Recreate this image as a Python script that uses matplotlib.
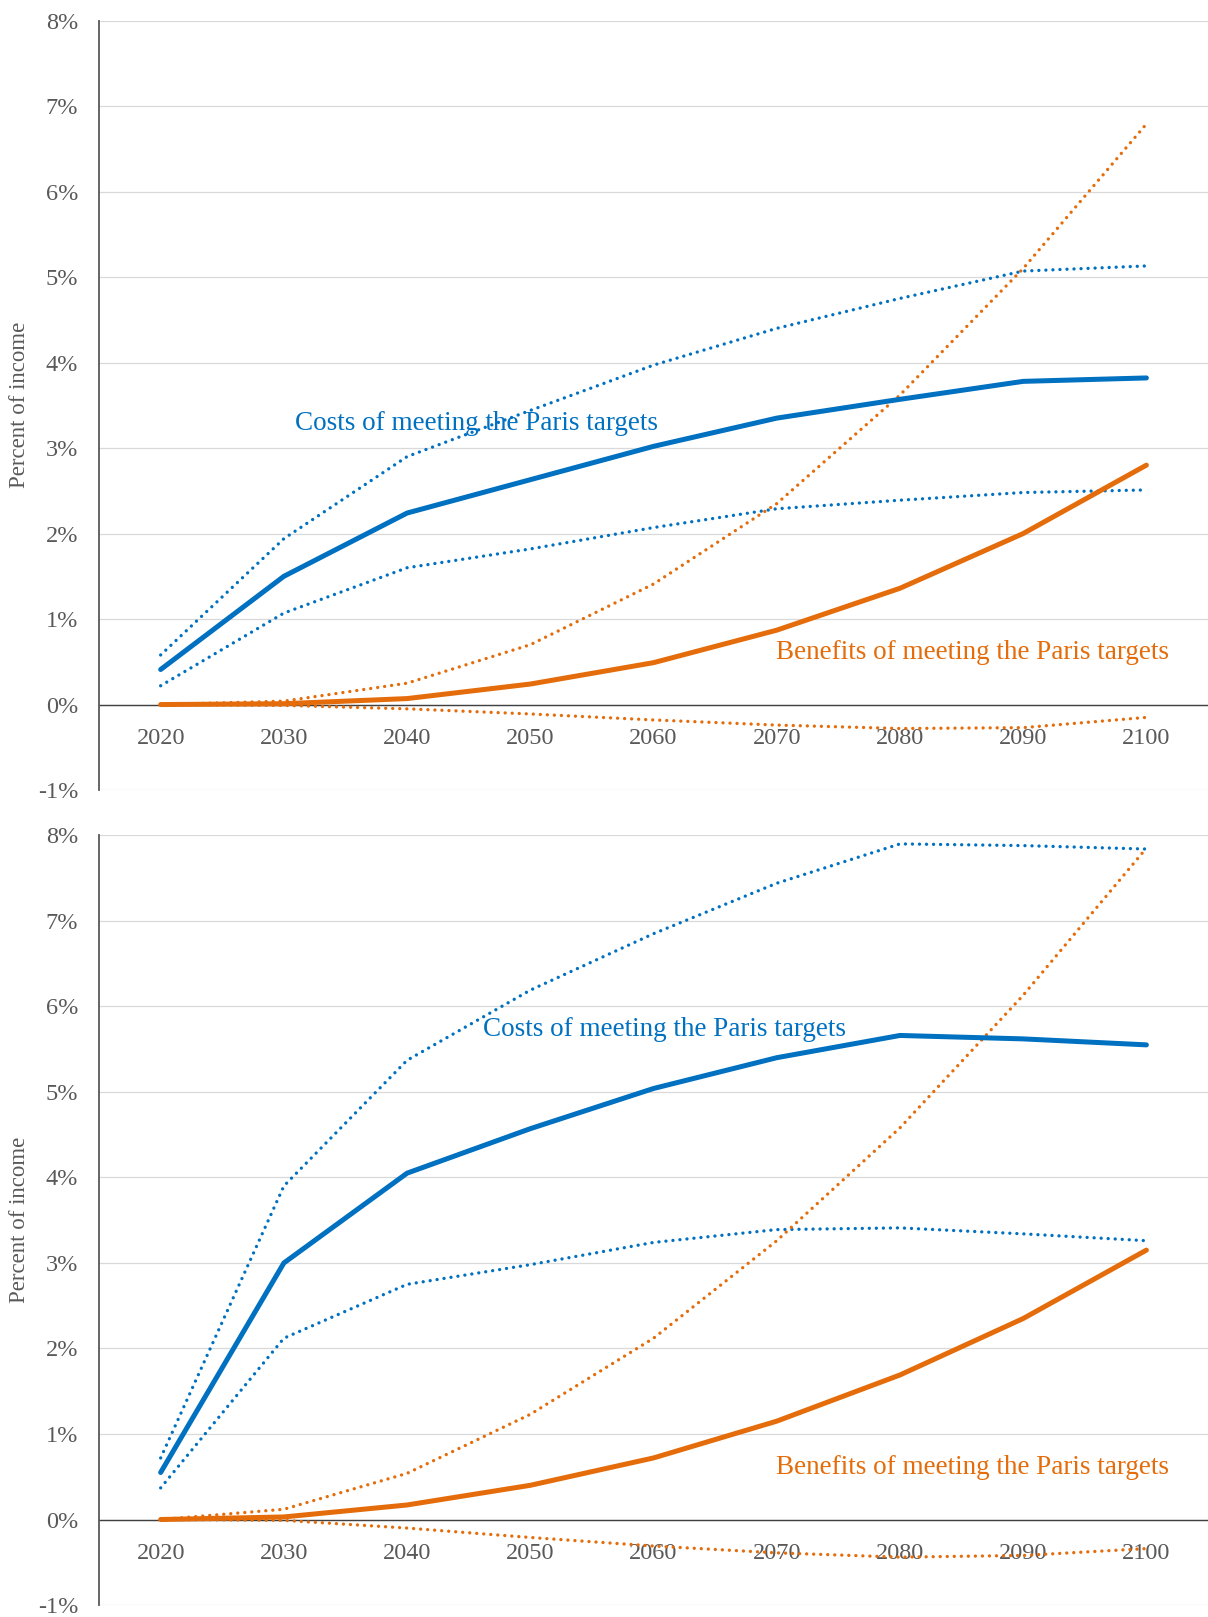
import matplotlib
matplotlib.use("Agg")
import matplotlib.pyplot as plt
from matplotlib.ticker import FuncFormatter

# Data (percent of income)
years = ["2020", "2030", "2040", "2050", "2060", "2070", "2080", "2090", "2100"]

# top panel
top_cost = [0.41, 1.50, 2.24, 2.63, 3.02, 3.35, 3.57, 3.78, 3.82]
top_cost_hi = [0.58, 1.94, 2.90, 3.44, 3.97, 4.40, 4.75, 5.07, 5.13]
top_cost_lo = [0.22, 1.07, 1.60, 1.82, 2.07, 2.29, 2.39, 2.48, 2.51]
top_ben = [0.00, 0.01, 0.07, 0.24, 0.49, 0.87, 1.36, 2.00, 2.80]
top_ben_hi = [0.00, 0.04, 0.25, 0.70, 1.41, 2.35, 3.62, 5.10, 6.79]
top_ben_lo = [0.00, -0.01, -0.05, -0.11, -0.18, -0.24, -0.28, -0.27, -0.15]

# bottom panel
bot_cost = [0.55, 3.00, 4.05, 4.57, 5.04, 5.40, 5.66, 5.62, 5.55]
bot_cost_hi = [0.72, 3.90, 5.37, 6.19, 6.85, 7.44, 7.90, 7.88, 7.84]
bot_cost_lo = [0.37, 2.12, 2.75, 2.98, 3.24, 3.39, 3.41, 3.34, 3.26]
bot_ben = [0.00, 0.03, 0.17, 0.40, 0.72, 1.15, 1.69, 2.35, 3.15]
bot_ben_hi = [0.00, 0.12, 0.54, 1.23, 2.12, 3.26, 4.58, 6.13, 7.85]
bot_ben_lo = [0.00, -0.01, -0.10, -0.21, -0.31, -0.39, -0.44, -0.42, -0.34]

BLUE = "#0070c0"
ORANGE = "#e46c0a"
GREY = "#595959"

plt.rcParams["font.family"] = ["Liberation Serif", "DejaVu Serif"]

fig = plt.figure(figsize=(12.08, 16.17), dpi=100)
ax_top = fig.add_axes([0.082, 0.5114, 0.918, 0.4759])
ax_bot = fig.add_axes([0.082, 0.0074, 0.918, 0.4760])

panels = [
    (ax_top, top_cost, top_cost_hi, top_cost_lo, top_ben, top_ben_hi, top_ben_lo, (1.09, 3.29)),
    (ax_bot, bot_cost, bot_cost_hi, bot_cost_lo, bot_ben, bot_ben_hi, bot_ben_lo, (2.62, 5.73)),
]

x = list(range(len(years)))
dots = (0, (0.01, 2.1))

for ax, cost, cost_hi, cost_lo, ben, ben_hi, ben_lo, cost_pos in panels:
    for series, c in [(cost_hi, BLUE), (cost_lo, BLUE), (ben_hi, ORANGE), (ben_lo, ORANGE)]:
        ax.plot(x, series, color=c, lw=2.4, ls=dots, dash_capstyle="round", zorder=3)
    ax.plot(x, cost, color=BLUE, lw=3.6, solid_capstyle="round", zorder=4)
    ax.plot(x, ben, color=ORANGE, lw=3.6, solid_capstyle="round", zorder=4)

    ax.text(cost_pos[0], cost_pos[1], "Costs of meeting the Paris targets",
            color=BLUE, fontsize=19.5, ha="left", va="center")
    ax.text(4.99, 0.61, "Benefits of meeting the Paris targets",
            color=ORANGE, fontsize=19.5, ha="left", va="center")

    ax.set_xlim(-0.5, 8.5)
    ax.set_ylim(-1, 8)
    ax.set_yticks(range(-1, 9))
    ax.yaxis.set_major_formatter(FuncFormatter(lambda v, p: "%d%%" % v))
    ax.set_xticks(x)
    ax.set_xticklabels(years)
    ax.grid(axis="y", color="#d9d9d9", lw=0.9, zorder=0)
    ax.set_axisbelow(True)

    for s in ["top", "right"]:
        ax.spines[s].set_visible(False)
    ax.spines["bottom"].set_position(("data", 0))
    ax.spines["bottom"].set_color("#404040")
    ax.spines["bottom"].set_linewidth(1.0)
    ax.spines["bottom"].set_zorder(2)
    ax.spines["left"].set_color("#595959")
    ax.spines["left"].set_linewidth(1.3)

    ax.tick_params(axis="both", length=0, labelsize=17.5, labelcolor=GREY)
    ax.tick_params(axis="y", pad=15)
    ax.tick_params(axis="x", pad=17)

    # y label placed in figure coords so it is not clipped
    pos = ax.get_position()
    fig.text(20 / 1208, (pos.y0 + pos.y1) / 2, "Percent of income", rotation=90,
             fontsize=16.5, color=GREY, ha="center", va="center")

fig.savefig("out.png", dpi=100)
